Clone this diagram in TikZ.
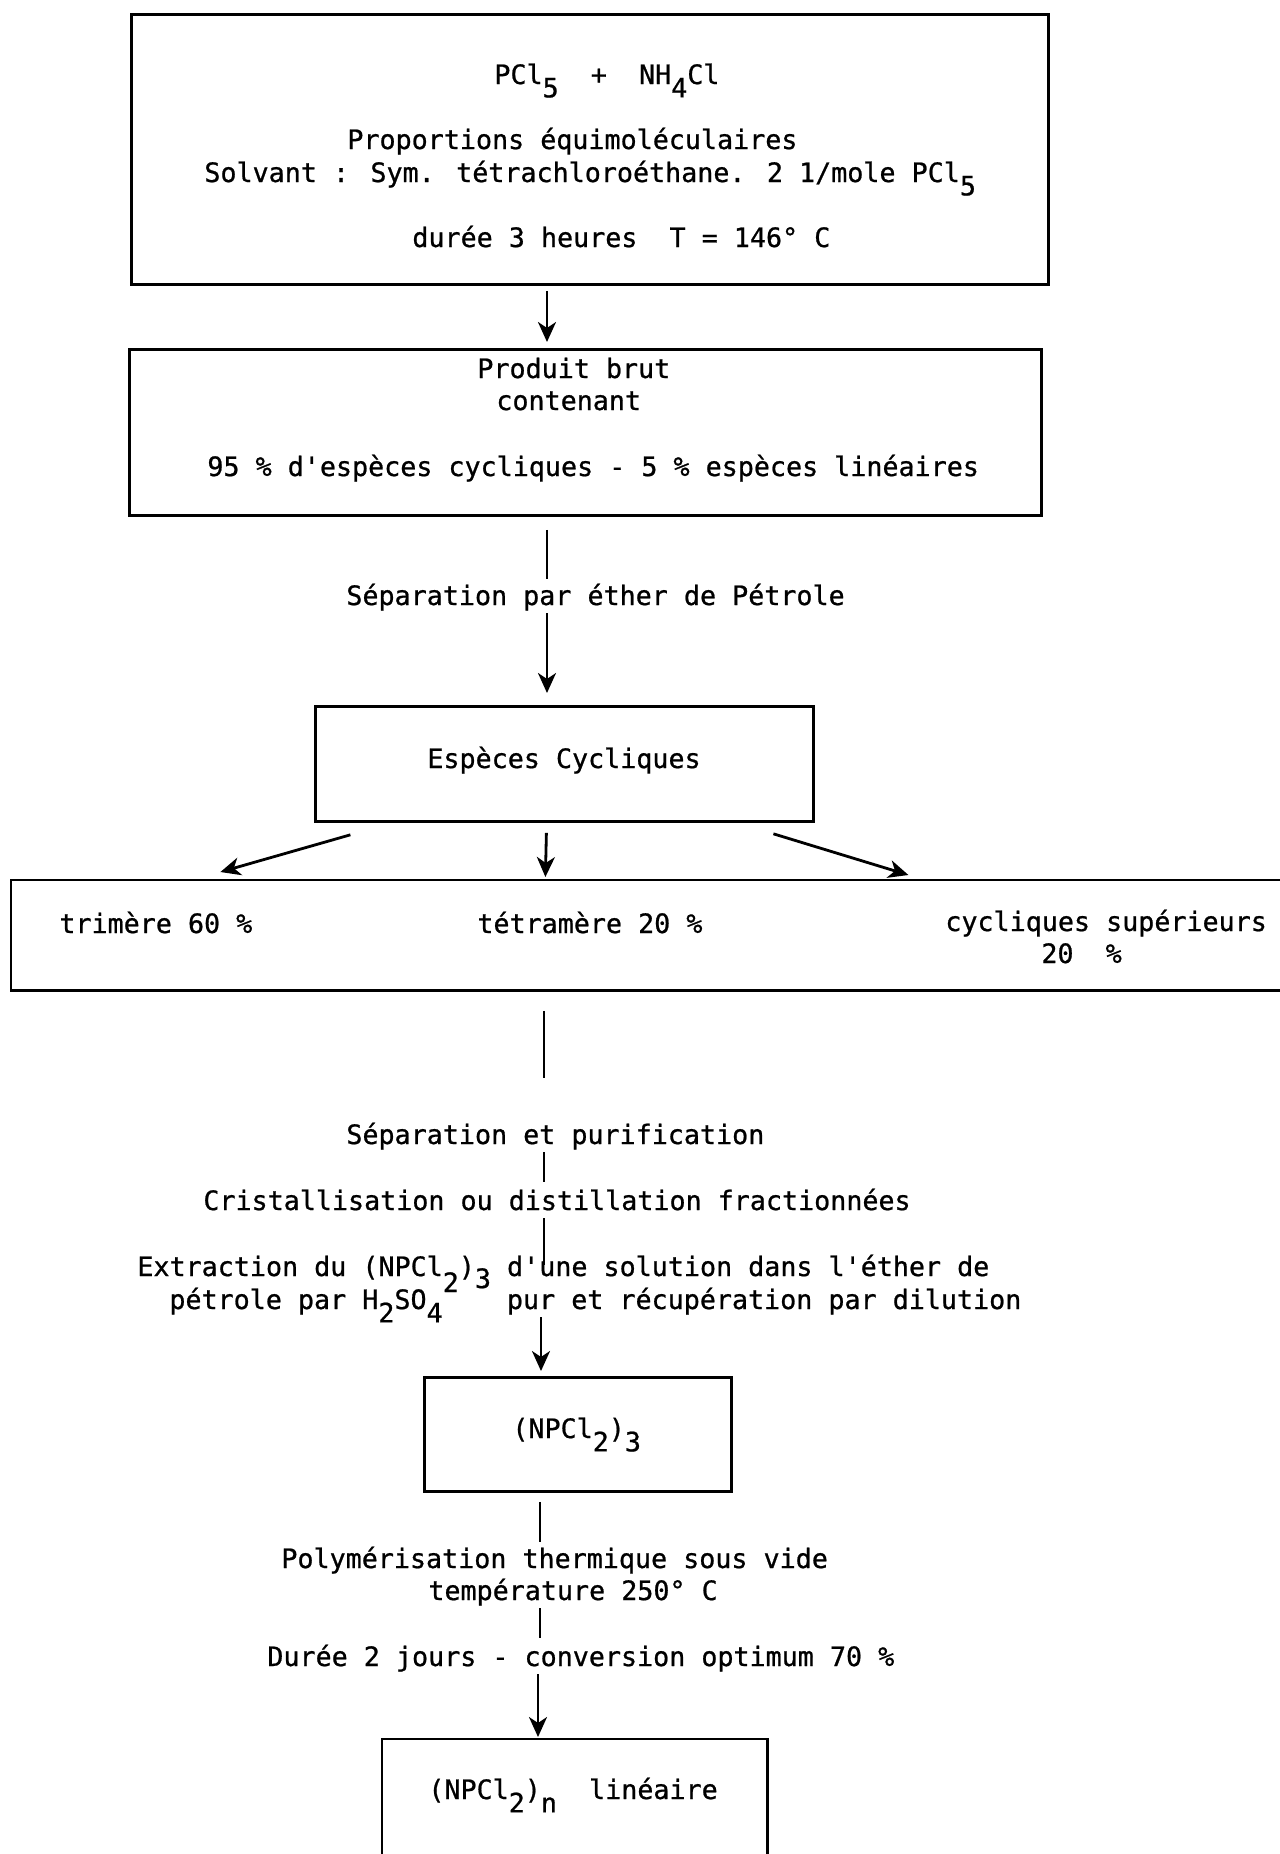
\documentclass[tikz,border=0pt]{standalone}
\usepackage{fontspec}
\newfontfamily\mono[FakeBold=0.8]{DejaVu Sans Mono}
\usetikzlibrary{arrows.meta,calc}
\newcommand\lo[2][0.5em]{\raisebox{-#1}{#2}}
\begin{document}
\begin{tikzpicture}[x=0.5pt,y=-0.5pt,
  font=\mono\fontsize{13.35}{16}\selectfont,
  box/.style={draw, line width=1.4pt, inner sep=0pt, anchor=north west},
  frame/.style={inner sep=0pt, anchor=north west},
  t/.style={inner sep=0pt, anchor=base west, text height=10pt, text depth=4pt},
  ln/.style={line width=1.4pt},
  arr/.style={line width=1.4pt, -{Stealth[length=10pt,width=9pt,inset=3pt]}}]
\useasboundingbox (0,0) rectangle (1280,1854);
\coordinate (xa) at (547,0);
\coordinate (xb) at (544,0);
\coordinate (xc) at (541,0);
\coordinate (xd) at (540,0);
\coordinate (xe) at (538,0);
% box 1
\node[box, minimum width=458.5pt, minimum height=135pt] (b1) at (130,13) {};
\node[t] (b1a) at (494,84) {PCl\lo{5}~~+~~NH\lo{4}Cl};
\node[t] (b1b) at (347,149) {Proportions équimoléculaires};
\node[t] (b1c) at (204,182) {Solvant : Sym. tétrachloroéthane. 2 1/mole PCl\lo{5}};
\node[t] (b1d) at (412,247) {durée 3 heures~~T = 146° C};
% box 2
\node[box, minimum width=456pt, minimum height=83pt] (b2) at (128,348) {};
\node[t] (b2a) at (477,378) {Produit brut};
\node[t] (b2b) at (496,410) {contenant};
\node[t] (b2c) at (207,476) {95 \% d'espèces cycliques - 5 \% espèces linéaires};
\node[t] (sep1) at (346,605) {Séparation par éther de Pétrole};
% box 3
\node[box, minimum width=249pt, minimum height=57.5pt] (b3) at (314,705) {};
\node[t] (b3a) at (427,768) {Espèces Cycliques};
% box 4 (open at right edge)
\node[frame, minimum width=634.5pt, minimum height=55pt] (b4) at (11,880) {};
\draw[ln] (b4.north east) -- (b4.north west) -- (b4.south west) -- (b4.south east);
\node[t] (tri) at (59,933) {trimère 60 \%};
\node[t] (tet) at (477,933) {tétramère 20 \%};
\node[t] (cyc) at (945,931) {cycliques supérieurs};
\node[t] (cyc2) at (1041,963) {20~~\%};
% steps
\node[t] (sep2) at (346,1144) {Séparation et purification};
\node[t] (cris) at (203,1210) {Cristallisation ou distillation fractionnées};
\node[t] (ext1) at (137,1276) {Extraction du (NPCl\lo[0.6em]{2})\lo[0.45em]{3} d'une solution dans l'éther de};
\node[t] (ext2) at (169,1309) {pétrole par H\lo{2}SO\lo{4}~~~~pur et récupération par dilution};
% box 5
\node[box, minimum width=153.5pt, minimum height=57pt] (b5) at (423,1376) {};
\node[t] (b5a) at (512,1438) {(NPCl\lo{2})\lo{3}};
\node[t] (poly) at (281,1568) {Polymérisation thermique sous vide};
\node[t] (temp) at (428,1600) {température 250° C};
\node[t] (duree) at (267,1666) {Durée 2 jours - conversion optimum 70 \%};
% box 6 (open at bottom edge)
\node[frame, minimum width=192.5pt, minimum height=57.5pt] (b6) at (382,1739) {};
\draw[ln] (b6.south west) -- (b6.north west) -- (b6.north east) -- (b6.south east);
\node[t] (b6a) at (428,1799) {(NPCl\lo{2})\lo{n}~~linéaire};
% connectors
\draw[arr, shorten <=2.5pt, shorten >=3pt] (b1.south -| xa) -- (b2.north -| xa);
\draw[ln, shorten <=6.5pt, shorten >=3pt] (b2.south -| xa) -- (sep1.north -| xa);
\draw[arr, shorten >=6pt] (sep1.south -| xa) -- (b3.north -| xa);
\draw[arr] ($(b3.south)+(-214,12)$) -- ($(b4.north)+(-425.5,-8)$);
\draw[arr] ($(b3.south)+(-18,10)$) -- ($(b4.north)+(-100.5,-3)$);
\draw[arr] ($(b3.south)+(209,11)$) -- ($(b4.north)+(262.5,-5)$);
\draw[ln, shorten <=10pt, shorten >=23pt] (b4.south -| xb) -- (sep2.north -| xb);
\draw[ln, shorten >=4pt] (sep2.south -| xb) -- (cris.north -| xb);
\draw[ln, shorten >=5.5pt] (cris.south -| xb) -- (ext1.base -| xb);
\draw[arr, shorten >=2.5pt] (ext2.south -| xc) -- (b5.north -| xc);
\draw[ln, shorten <=4.5pt, shorten >=3pt] (b5.south -| xd) -- (poly.north -| xd);
\draw[ln, shorten >=4pt] (temp.south -| xd) -- (duree.north -| xd);
\draw[arr, shorten >=1pt] (duree.south -| xe) -- (b6.north -| xe);
\end{tikzpicture}
\end{document}
